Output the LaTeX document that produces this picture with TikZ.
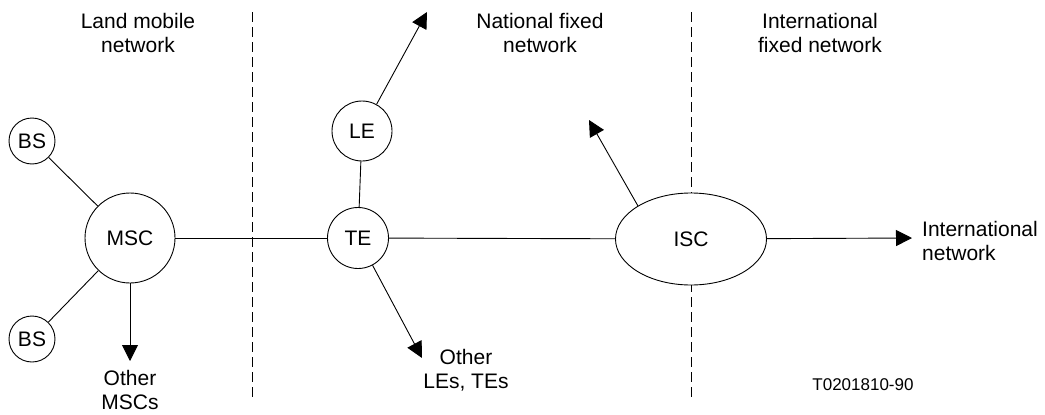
\documentclass[tikz,border=0pt]{standalone}
\usepackage{fontspec}
\setmainfont{Liberation Sans}
\usetikzlibrary{arrows.meta,shapes.geometric}
\begin{document}
\begin{tikzpicture}[x=1pt,y=-1pt,
  lbl/.style={font=\fontsize{21}{24}\selectfont,align=center,inner sep=0pt},
  node/.style={draw,circle,line width=0.9pt,inner sep=0pt,font=\fontsize{21}{24}\selectfont,fill=white},
  conn/.style={line width=0.9pt},
  arr/.style={line width=0.9pt,-{Triangle[length=16pt,width=16pt]}},
  divider/.style={line width=0.8pt,dash pattern=on 10pt off 5pt}]
\useasboundingbox (0,0) rectangle (1045,415);
% dividers
\coordinate (d1t) at (252,12); \coordinate (d1b) at (252,397);
\coordinate (d2t) at (691,12); \coordinate (d2b) at (691,397);
\draw[divider] (d1t) -- (d1b);
\draw[divider] (d2t) -- (d2b);
% titles
\node[lbl] (t1) at (138,33) {Land mobile\\network};
\node[lbl] (t2) at (540,33) {National fixed\\network};
\node[lbl] (t3) at (820,33) {International\\fixed network};
% nodes
\node[node,minimum size=46pt] (bs1) at (32,141) {BS};
\node[node,minimum size=46pt] (bs2) at (32,339) {BS};
\node[node,minimum size=90pt] (msc) at (130,238) {MSC};
\node[node,minimum size=60pt] (le) at (362,131) {LE};
\node[node,minimum size=61pt] (te) at (358,238) {TE};
\node[draw,ellipse,line width=0.9pt,fill=white,inner sep=0pt,minimum width=151pt,minimum height=92pt,font=\fontsize{21}{24}\selectfont] (isc) at (691,239) {ISC};
% free ends
\coordinate (omsc) at (130,361);
\coordinate (ole) at (427,12);
\coordinate (ote) at (422,358);
\coordinate (oisc) at (589,120);
\coordinate (oint) at (912,238);
% connectors
\draw[conn] (bs1) -- (msc);
\draw[conn] (bs2) -- (msc);
\draw[conn] (msc) -- (te);
\draw[conn] (le) -- (te);
\draw[conn] (te) -- (isc);
\draw[arr] (msc) -- (omsc);
\draw[arr] (le) -- (ole);
\draw[arr] (te) -- (ote);
\draw[arr] (isc.148) -- (oisc);
\draw[arr] (isc) -- (oint);
% labels
\node[lbl] (lmsc) at (130,390) {Other\\MSCs};
\node[lbl] (lte) at (466,370) {Other\\LEs, TEs};
\node[lbl,align=left,anchor=west] (lint) at (922,241) {International\\network};
\node[inner sep=0pt,font=\fontsize{17}{20}\selectfont] (code) at (863,385) {T0201810-90};
\end{tikzpicture}
\end{document}
